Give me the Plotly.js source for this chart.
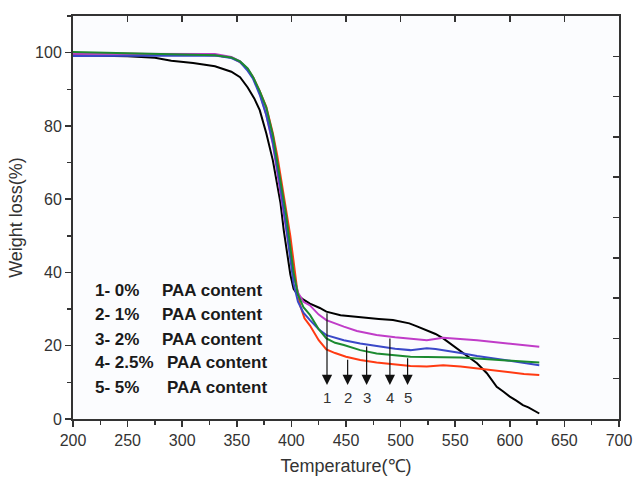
<!DOCTYPE html>
<html>
<head>
<meta charset="utf-8">
<script src="https://cdn.plot.ly/plotly-3.0.1.min.js"></script>
<style>html,body{margin:0;padding:0;background:#fff;}#chart{width:633px;height:481px;}</style>
</head>
<body>
<div id="chart"></div>
<script>
// Curve 1 (0% PAA) – black
const tBlack = [200,250,275,290,310,330,345,353,360,366,371,377,383,387,390,393,396,399,402,406,410,417,426,432,445,463,480,493,508,515,524,532,539,547,554,562,570,579,588,594,600,606,612,617,621,627];
const wBlack = [99.3,99.0,98.6,97.8,97.2,96.3,94.8,93.3,90.5,87.5,84.3,78,70.6,64,59,51.5,45,39.5,35.5,33.8,32.8,31.5,30.3,29.3,28.3,27.7,27.3,27.0,26.1,25.3,24.3,23.2,22.0,20.3,18.8,17.0,15.2,12.5,8.8,7.5,6.1,5.0,3.8,3.2,2.5,1.5];

// Curve 2 (1% PAA) – red
const tRed = [200,250,300,330,345,353,360,365,371,377,383,387,392,396,399,402,405,408,412,417,425,432,440,450,463,478,495,509,524,539,555,570,585,600,613,627];
const wRed = [99.9,99.8,99.5,99.3,98.7,97.4,95.5,93.3,89.5,85.2,78,72,63,56,50,43,36,31,27.5,25.5,21.5,19,18,17,16.1,15.4,14.9,14.5,14.3,14.7,14.3,13.8,13.2,12.6,12.3,12.0];

// Curve 3 (2% PAA) – blue
const tBlue = [200,250,300,330,345,353,360,365,371,377,383,389,395,399,402,406,411,417,425,432,440,448,463,478,495,509,518,524,532,539,555,570,585,600,613,627];
const wBlue = [99.1,99.2,99.3,99.2,98.5,97.4,95,92.8,88.5,83,75.5,65,53,44,37,32,29,27,24.5,22.9,22.1,21.5,20.6,19.9,19.2,18.8,19.0,19.3,19.1,18.8,18.0,17.2,16.5,15.9,15.3,14.7];

// Curve 4 (2.5% PAA) – magenta
const tMag = [200,250,300,330,345,353,360,365,371,377,383,389,395,399,402,406,411,417,425,432,440,448,460,478,495,509,524,539,555,570,585,600,613,627];
const wMag = [99.7,99.7,99.6,99.6,98.8,97.6,95.5,93,89,83,75,64,53,45,39,34.5,32,31,28.5,27,26,25.2,24,22.9,22.3,22,21.5,22.2,21.9,21.5,21,20.6,20.2,19.7];

// Curve 5 (5% PAA) – green
const tGreen = [200,250,300,330,345,353,360,365,371,377,383,389,395,399,402,406,411,417,425,432,440,448,463,478,495,509,524,539,548,555,570,585,600,613,627];
const wGreen = [100.2,99.9,99.5,99.3,98.7,97.6,95.7,93.3,89.5,85,77.5,67,56,47,40,34,30.5,28.4,24.5,22,20.8,20.2,18.8,17.9,17.3,17.0,16.9,16.9,17.0,16.8,16.5,16.2,15.9,15.6,15.4];

// Legend text rows
const rowNum = ["1- 0%", "2- 1%", "3- 2%", "4- 2.5%", "5- 5%"];
const rowText = ["PAA content", "PAA content", "PAA content", "PAA content", "PAA content"];
const rowY = [35.2, 28.6, 21.8, 15.3, 8.5];
const rowTextX = [279.8, 279.8, 279.8, 284.4, 284.4];

// Arrows
const arrowLabels = ["1", "2", "3", "4", "5"];
const arrowX = [432.6, 451.5, 468.9, 490.2, 506.4];
const arrowTop = [29.3, 16.6, 20.2, 22.4, 17.0];
const arrowHead = 9.3;
const arrowLabelY = 6.0;

const lw = 2;
const traces = [
  {x: tBlack, y: wBlack, mode: 'lines', line: {color: '#000000', width: lw}, name: '0%'},
  {x: tRed, y: wRed, mode: 'lines', line: {color: '#ff3a12', width: lw}, name: '1%'},
  {x: tMag, y: wMag, mode: 'lines', line: {color: '#c03cc8', width: lw}, name: '2.5%'},
  {x: tBlue, y: wBlue, mode: 'lines', line: {color: '#3a48c8', width: lw}, name: '2%'},
  {x: tGreen, y: wGreen, mode: 'lines', line: {color: '#1b8a30', width: lw}, name: '5%'},
  {x: [], y: [], xaxis: 'x2', yaxis: 'y2', mode: 'lines', showlegend: false}
];

const annotations = [];
for (let i = 0; i < rowNum.length; i++) {
  annotations.push({x: 218.6, y: rowY[i], xref: 'x', yref: 'y', text: '<b>' + rowNum[i] + '</b>', showarrow: false, xanchor: 'left', yanchor: 'middle', font: {family: 'Liberation Sans, Arial, sans-serif', size: 17, color: '#1a1a1a'}});
  annotations.push({x: rowTextX[i], y: rowY[i], xref: 'x', yref: 'y', text: '<b>' + rowText[i] + '</b>', showarrow: false, xanchor: 'left', yanchor: 'middle', font: {family: 'Liberation Sans, Arial, sans-serif', size: 17, color: '#1a1a1a'}});
}
for (let i = 0; i < arrowX.length; i++) {
  annotations.push({x: arrowX[i], y: arrowHead, ax: arrowX[i], ay: arrowTop[i], xref: 'x', yref: 'y', axref: 'x', ayref: 'y', text: '', showarrow: true, arrowhead: 2, arrowsize: 1.7, arrowwidth: 1.2, arrowcolor: '#111', standoff: 0, startstandoff: 0});
  annotations.push({x: arrowX[i], y: arrowLabelY, xref: 'x', yref: 'y', text: arrowLabels[i], showarrow: false, xanchor: 'center', yanchor: 'middle', font: {family: 'Liberation Sans, Arial, sans-serif', size: 15, color: '#333'}});
}

const axFont = {family: 'Liberation Sans, Arial, sans-serif', size: 16, color: '#333'};
const layout = {
  width: 633, height: 481,
  margin: {l: 73, r: 14, t: 16, b: 62},
  paper_bgcolor: '#ffffff',
  plot_bgcolor: '#fbfcfe',
  showlegend: false,
  hovermode: false,
  xaxis: {
    range: [200, 700], dtick: 50, tick0: 200,
    ticks: 'outside', ticklen: 6, tickwidth: 1.5, tickcolor: '#333',
    minor: {dtick: 25, ticks: 'outside', ticklen: 4, tickwidth: 1.5, tickcolor: '#333'},
    showline: true, linecolor: '#333', linewidth: 2, mirror: true,
    showgrid: false, zeroline: false,
    tickfont: axFont,
    title: {text: 'Temperature(℃)', font: {family: 'Liberation Sans, Arial, sans-serif', size: 18, color: '#333'}, standoff: 11}
  },
  yaxis: {
    range: [0, 110], dtick: 20, tick0: 0,
    ticks: 'outside', ticklen: 6, tickwidth: 1.5, tickcolor: '#333',
    minor: {dtick: 10, ticks: 'outside', ticklen: 4, tickwidth: 1.5, tickcolor: '#333'},
    showline: true, linecolor: '#333', linewidth: 2, mirror: true,
    showgrid: false, zeroline: false,
    tickfont: axFont,
    title: {text: 'Weight loss(%)', font: {family: 'Liberation Sans, Arial, sans-serif', size: 18, color: '#333'}, standoff: 8}
  },
  xaxis2: {
    overlaying: 'x', side: 'top', range: [200, 700], dtick: 50, tick0: 200,
    ticks: 'inside', ticklen: 6, tickwidth: 1.5, tickcolor: '#333',
    showticklabels: false, showgrid: false, zeroline: false, showline: false
  },
  yaxis2: {
    overlaying: 'y', side: 'right', range: [0, 10], dtick: 1, tick0: 0,
    ticks: 'inside', ticklen: 6, tickwidth: 1.5, tickcolor: '#333',
    showticklabels: false, showgrid: false, zeroline: false, showline: false
  },
  annotations: annotations
};

Plotly.newPlot('chart', traces, layout, {displayModeBar: false, staticPlot: true});
</script>
</body>
</html>
